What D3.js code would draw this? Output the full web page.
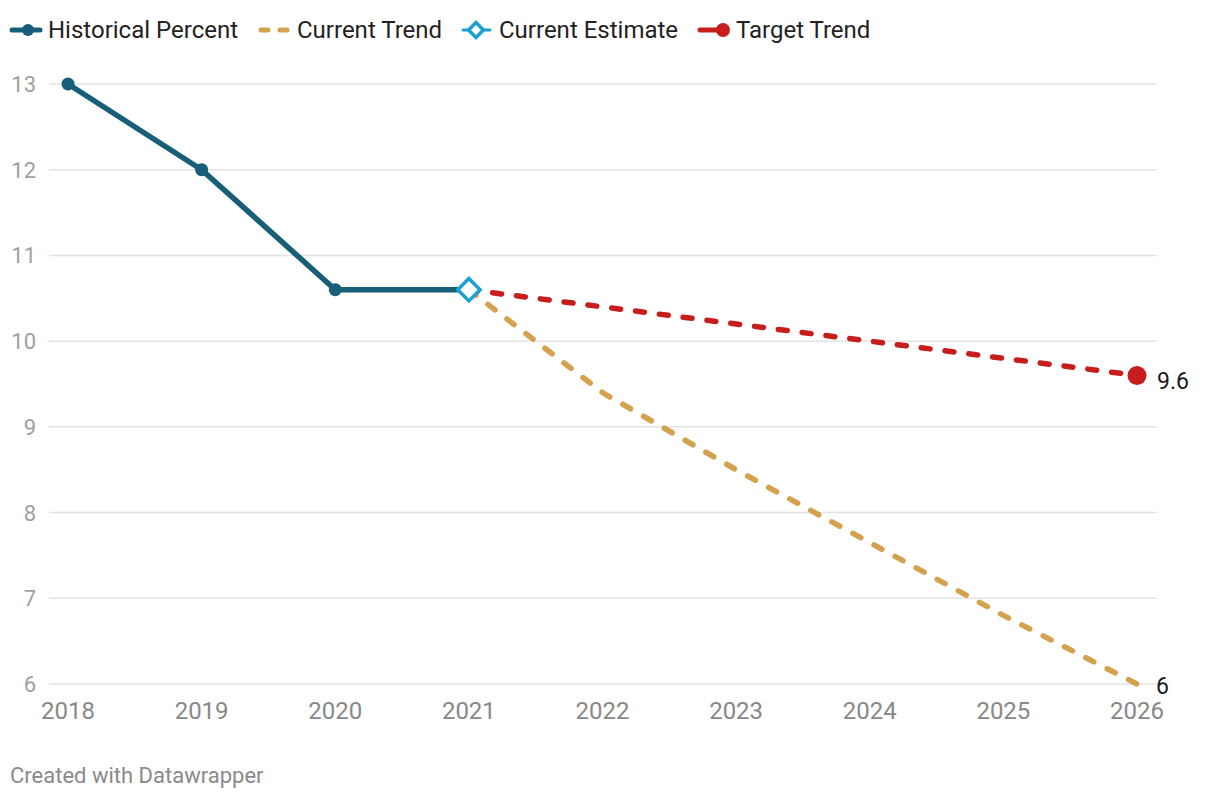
<!DOCTYPE html>
<html>
<head>
<meta charset="utf-8">
<script src="https://cdn.jsdelivr.net/npm/d3@7"></script>
<style>
  body { margin: 0; background: #fff; font-family: Roboto, "Noto Sans", sans-serif; }
  svg { display: block; }
</style>
</head>
<body>
<svg id="chart" width="1220" height="800"></svg>
<script>
// chart data
const years = [2018, 2019, 2020, 2021, 2022, 2023, 2024, 2025, 2026];
const yTicks = [6, 7, 8, 9, 10, 11, 12, 13];
const historical = [[2018, 13], [2019, 12], [2020, 10.6], [2021, 10.6]];
const currentTrend = [[2021, 10.6], [2022, 9.4], [2023, 8.5], [2024, 7.65], [2025, 6.8], [2026, 6]];
const targetTrend = [[2021, 10.6], [2022, 10.4], [2023, 10.2], [2024, 10.0], [2025, 9.8], [2026, 9.6]];
const estimate = [2021, 10.6];
const legendItems = ["Historical Percent", "Current Trend", "Current Estimate", "Target Trend"];

const colors = { hist: "#175e78", cur: "#d4a24f", est: "#1aa0d4", target: "#c71e1d" };

const svg = d3.select("#chart");

let x = d3.scaleLinear().domain([2018, 2026]).range([68, 1137]);
let y = d3.scaleLinear().domain([6, 13]).range([684, 84]);

// gridlines + y labels
svg.append("g")
    .selectAll("line")
    .data(yTicks)
    .enter().append("line")
    .attr("x1", 49).attr("x2", 1157)
    .attr("y1", d => y(d)).attr("y2", d => y(d))
    .attr("stroke", "#e3e3e3")
    .attr("stroke-width", 1.5);

svg.append("g")
    .selectAll("text")
    .data(yTicks)
    .enter().append("text")
    .attr("x", 36)
    .attr("y", d => y(d) + 8)
    .attr("text-anchor", "end")
    .style("font-size", "22px")
    .attr("fill", "#a0a0a0")
    .text(d => d);

// x labels
svg.append("g")
    .selectAll("text")
    .data(years)
    .enter().append("text")
    .attr("x", d => x(d))
    .attr("y", 719)
    .attr("text-anchor", "middle")
    .style("font-size", "24px")
    .attr("fill", "#888")
    .text(d => d);

let line = d3.line().x(d => x(d[0])).y(d => y(d[1]));

// trends
svg.append("path")
    .attr("d", line(currentTrend))
    .attr("fill", "none")
    .attr("stroke", colors.cur)
    .attr("stroke-width", 5.5)
    .attr("stroke-linecap", "round")
    .attr("stroke-dasharray", "9 15");

svg.append("path")
    .attr("d", line(targetTrend))
    .attr("fill", "none")
    .attr("stroke", colors.target)
    .attr("stroke-width", 5.5)
    .attr("stroke-linecap", "round")
    .attr("stroke-dasharray", "9 15");

svg.append("path")
    .attr("d", line(historical))
    .attr("fill", "none")
    .attr("stroke", colors.hist)
    .attr("stroke-width", 5.5)
    .attr("stroke-linejoin", "round");

svg.append("g")
    .selectAll("circle")
    .data(historical.slice(0, 3))
    .enter().append("circle")
    .attr("cx", d => x(d[0]))
    .attr("cy", d => y(d[1]))
    .attr("r", 6.5)
    .attr("fill", colors.hist);

// estimate diamond
svg.append("path")
    .attr("d", d3.symbol().type(d3.symbolSquare).size(250)())
    .attr("transform", `translate(${x(estimate[0])},${y(estimate[1])}) rotate(45)`)
    .attr("fill", "#fff")
    .attr("stroke", colors.est)
    .attr("stroke-width", 3.5);

// target end dot
let tEnd = targetTrend[targetTrend.length - 1];
svg.append("circle")
    .attr("cx", x(tEnd[0])).attr("cy", y(tEnd[1]))
    .attr("r", 9.5)
    .attr("fill", colors.target);

// end labels
let cEnd = currentTrend[currentTrend.length - 1];
svg.append("text")
    .attr("x", x(tEnd[0]) + 20).attr("y", y(tEnd[1]) + 14)
    .style("font-size", "23px").attr("fill", "#1a1a1a")
    .text(tEnd[1]);
svg.append("text")
    .attr("x", x(cEnd[0]) + 19).attr("y", y(cEnd[1]) + 10)
    .style("font-size", "23px").attr("fill", "#1a1a1a")
    .text(cEnd[1]);

// legend
let lg = svg.append("g").style("font-size", "24px").attr("fill", "#222");
let ly = 30;
// historical
lg.append("line").attr("x1", 12).attr("x2", 40).attr("y1", ly).attr("y2", ly)
    .attr("stroke", colors.hist).attr("stroke-width", 5).attr("stroke-linecap", "round");
lg.append("circle").attr("cx", 28).attr("cy", ly).attr("r", 6).attr("fill", colors.hist);
lg.append("text").attr("x", 48).attr("y", ly + 8).text(legendItems[0]);
// current trend
lg.append("line").attr("x1", 261).attr("x2", 287).attr("y1", ly).attr("y2", ly)
    .attr("stroke", colors.cur).attr("stroke-width", 5).attr("stroke-linecap", "round")
    .attr("stroke-dasharray", "7 12");
lg.append("text").attr("x", 297).attr("y", ly + 8).text(legendItems[1]);
// current estimate
lg.append("line").attr("x1", 463).attr("x2", 490).attr("y1", ly).attr("y2", ly)
    .attr("stroke", colors.est).attr("stroke-width", 3).attr("stroke-linecap", "round");
lg.append("path")
    .attr("d", d3.symbol().type(d3.symbolSquare).size(110)())
    .attr("transform", `translate(476,${ly}) rotate(45)`)
    .attr("fill", "#fff").attr("stroke", colors.est).attr("stroke-width", 3.5);
lg.append("text").attr("x", 499).attr("y", ly + 8).text(legendItems[2]);
// target trend
lg.append("line").attr("x1", 700).attr("x2", 722).attr("y1", ly).attr("y2", ly)
    .attr("stroke", colors.target).attr("stroke-width", 5).attr("stroke-linecap", "round");
lg.append("circle").attr("cx", 723).attr("cy", ly).attr("r", 7).attr("fill", colors.target);
lg.append("text").attr("x", 736).attr("y", ly + 8).text(legendItems[3]);

// footer
svg.append("text")
    .attr("x", 10).attr("y", 783)
    .style("font-size", "22px")
    .attr("fill", "#8a8a8a")
    .text("Created with Datawrapper");
</script>
</body>
</html>
